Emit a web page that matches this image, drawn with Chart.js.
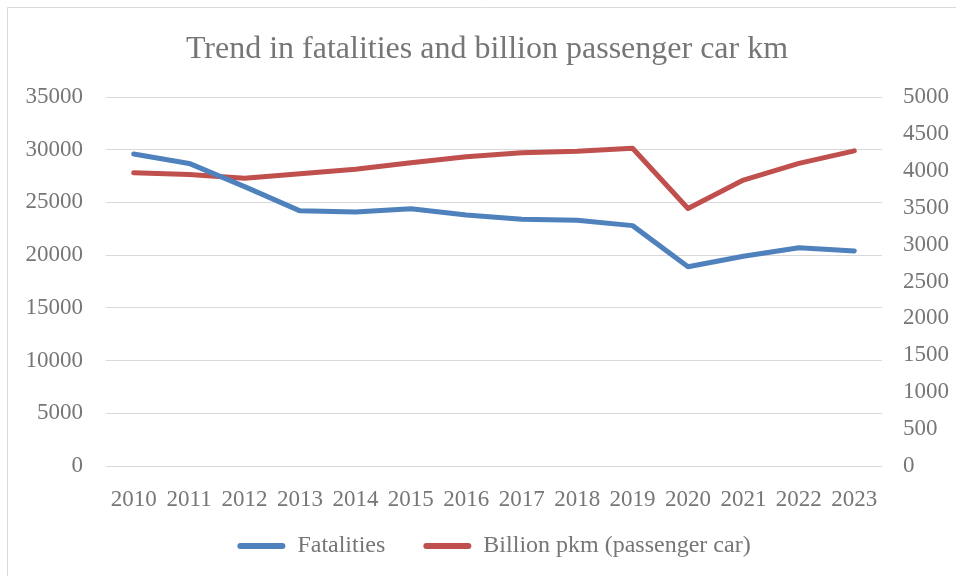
<!DOCTYPE html>
<html>
<head>
<meta charset="utf-8">
<script src="https://cdn.jsdelivr.net/npm/chart.js@4.4.1/dist/chart.umd.min.js"></script>
<style>
  html, body { margin: 0; padding: 0; background: #ffffff; }
  #wrap { width: 956px; height: 576px; position: relative; }
</style>
</head>
<body>
<div id="wrap"><canvas id="c" width="956" height="576"></canvas></div>
<script>
const years = ["2010","2011","2012","2013","2014","2015","2016","2017","2018","2019","2020","2021","2022","2023"];
const fatalities = [29600, 28700, 26500, 24200, 24100, 24400, 23800, 23400, 23300, 22800, 18900, 19900, 20700, 20400];
const billionPkm = [3975, 3950, 3900, 3960, 4020, 4110, 4190, 4245, 4265, 4305, 3490, 3875, 4100, 4270];
const titleText = "Trend in fatalities and billion passenger car km";
const seriesNames = ["Fatalities", "Billion pkm (passenger car)"];

const textColor = "#767676";
const gridColor = "#d9d9d9";
const fontFamily = "'Liberation Serif', 'Times New Roman', serif";

const borderPlugin = {
  id: 'frame',
  beforeDraw(chart) {
    const ctx = chart.ctx;
    ctx.save();
    ctx.fillStyle = '#ffffff';
    ctx.fillRect(0, 0, chart.width, chart.height);
    ctx.strokeStyle = gridColor;
    ctx.lineWidth = 1;
    ctx.beginPath();
    ctx.moveTo(7.5, chart.height);
    ctx.lineTo(7.5, 7.5);
    ctx.lineTo(chart.width, 7.5);
    ctx.stroke();
    ctx.restore();
  }
};

const plainTick = (v) => String(v);

new Chart(document.getElementById('c'), {
  type: 'line',
  data: {
    labels: years,
    datasets: [
      {
        label: seriesNames[0],
        data: fatalities,
        yAxisID: 'y',
        borderColor: '#4f81bd',
        backgroundColor: '#4f81bd',
        borderWidth: 5,
        pointRadius: 0,
        tension: 0,
        borderCapStyle: 'round',
        borderJoinStyle: 'round'
      },
      {
        label: seriesNames[1],
        data: billionPkm,
        yAxisID: 'y1',
        borderColor: '#c0504d',
        backgroundColor: '#c0504d',
        borderWidth: 5,
        pointRadius: 0,
        tension: 0,
        borderCapStyle: 'round',
        borderJoinStyle: 'round'
      }
    ]
  },
  options: {
    responsive: false,
    devicePixelRatio: 1,
    animation: false,
    layout: { padding: { left: 18, right: 0, top: 0, bottom: 8 } },
    plugins: {
      title: {
        display: true,
        text: titleText,
        color: textColor,
        font: { family: fontFamily, size: 32, weight: 'normal', lineHeight: 1.2 },
        padding: { top: 30, bottom: 28.6 }
      },
      legend: {
        display: true,
        position: 'bottom',
        fullSize: false,
        labels: {
          color: textColor,
          font: { family: fontFamily, size: 24 },
          boxWidth: 48,
          boxHeight: 6,
          padding: 14,
          useBorderRadius: true,
          borderRadius: 3,
          generateLabels(chart) {
            const n = chart.data.datasets.length;
            return chart.data.datasets.map((ds, i) => ({
              text: i < n - 1 ? ds.label + '    ' : ds.label,
              fillStyle: ds.borderColor,
              strokeStyle: ds.borderColor,
              lineWidth: 0,
              fontColor: textColor,
              hidden: false,
              borderRadius: 3,
              datasetIndex: i
            }));
          }
        }
      },
      tooltip: { enabled: false }
    },
    scales: {
      x: {
        offset: true,
        grid: { display: false, drawTicks: false },
        border: { display: false },
        ticks: {
          color: textColor,
          font: { family: fontFamily, size: 23 },
          padding: 20,
          maxRotation: 0,
          autoSkip: false
        },
        afterFit(scale) { scale.height = 54; }
      },
      y: {
        position: 'left',
        min: 0,
        max: 35000,
        grid: { color: gridColor, lineWidth: 1, drawTicks: false },
        border: { display: false },
        ticks: {
          stepSize: 5000,
          color: textColor,
          font: { family: fontFamily, size: 23 },
          padding: 23,
          callback: plainTick
        },
        afterFit(scale) { scale.width = 88; }
      },
      y1: {
        position: 'right',
        min: 0,
        max: 5000,
        grid: { drawOnChartArea: false, drawTicks: false },
        border: { display: false },
        ticks: {
          stepSize: 500,
          color: textColor,
          font: { family: fontFamily, size: 23 },
          padding: 21,
          callback: plainTick
        },
        afterFit(scale) { scale.width = 74; }
      }
    }
  },
  plugins: [borderPlugin]
});
</script>
</body>
</html>
